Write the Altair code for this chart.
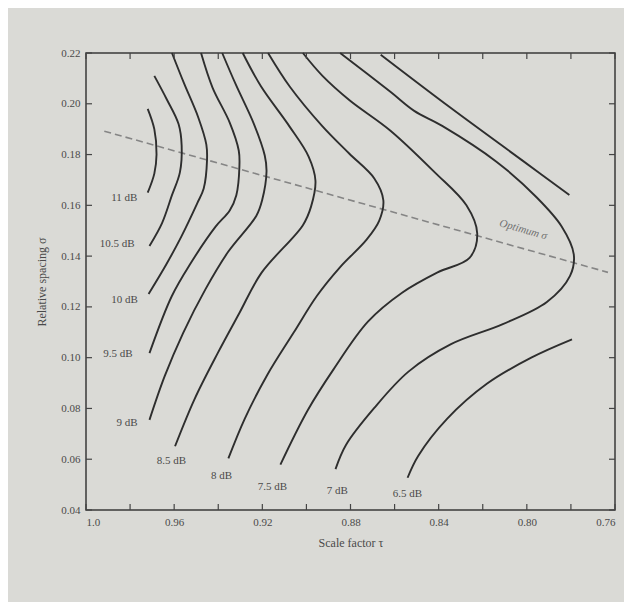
import altair as alt
import pandas as pd

# ---------------- values ----------------
# Scale factor tau (x, reversed) and relative spacing sigma (y)
tau_ticks = [1.0, 0.98, 0.96, 0.94, 0.92, 0.90, 0.88, 0.86, 0.84, 0.82, 0.80, 0.78, 0.76]
tau_tick_labels = [1.0, 0.96, 0.92, 0.88, 0.84, 0.80, 0.76]
sigma_ticks = [0.04, 0.06, 0.08, 0.10, 0.12, 0.14, 0.16, 0.18, 0.20, 0.22]

# constant-directivity contours (tau, sigma)
tau_11 = [0.972, 0.969, 0.968, 0.969, 0.972]
sig_11 = [0.198, 0.190, 0.180, 0.1725, 0.165]

tau_105 = [0.969, 0.9635, 0.958, 0.9566, 0.9574, 0.961, 0.9655, 0.9712]
sig_105 = [0.211, 0.202, 0.192, 0.1835, 0.173, 0.164, 0.153, 0.144]

tau_10 = [0.961, 0.9556, 0.9491, 0.9454, 0.9451, 0.9466, 0.9496, 0.9567, 0.9636, 0.9716]
sig_10 = [0.220, 0.2082, 0.1947, 0.1839, 0.1777, 0.1666, 0.1607, 0.1478, 0.1367, 0.1251]

tau_95 = [0.9478, 0.9426, 0.9348, 0.9307, 0.9304, 0.9318, 0.9348, 0.9413, 0.9525, 0.9611, 0.9712]
sig_95 = [0.220, 0.2064, 0.1926, 0.1816, 0.1753, 0.164, 0.158, 0.1515, 0.1372, 0.1242, 0.1018]

tau_9 = [0.9382, 0.932, 0.9238, 0.9189, 0.9181, 0.9201, 0.9227, 0.9355, 0.9459, 0.9559, 0.9643, 0.9712]
sig_9 = [0.220, 0.2075, 0.192, 0.1796, 0.1733, 0.162, 0.1559, 0.1417, 0.1268, 0.1098, 0.0927, 0.0755]

tau_85 = [0.9289, 0.9207, 0.9077, 0.899, 0.8959, 0.8979, 0.9016, 0.9204, 0.9304, 0.9403, 0.9508, 0.9596]
sig_85 = [0.220, 0.207, 0.1911, 0.1792, 0.1697, 0.1595, 0.1522, 0.1334, 0.1176, 0.1017, 0.0836, 0.0651]

tau_8 = [0.9174, 0.9075, 0.8929, 0.8806, 0.8692, 0.8651, 0.867, 0.8727, 0.8848, 0.8952, 0.9057, 0.9179, 0.928, 0.9354]
sig_8 = [0.220, 0.2067, 0.1913, 0.1804, 0.1706, 0.162, 0.1539, 0.1465, 0.1356, 0.1244, 0.110, 0.093, 0.0759, 0.0603]

tau_75 = [0.9016, 0.8926, 0.8803, 0.862, 0.842, 0.8274, 0.8225, 0.826, 0.8405, 0.8566, 0.8721, 0.8877, 0.8994, 0.9118]
sig_75 = [0.220, 0.2109, 0.2013, 0.1895, 0.1732, 0.160, 0.1489, 0.1393, 0.1336, 0.1256, 0.1142, 0.0954, 0.0793, 0.0579]

tau_7 = [0.8847, 0.8619, 0.8511, 0.8384, 0.8138, 0.7956, 0.7842, 0.7787, 0.7804, 0.7909, 0.8109, 0.8344, 0.8537, 0.8693, 0.882, 0.8868]
sig_7 = [0.220, 0.2047, 0.1972, 0.1913, 0.1772, 0.1632, 0.1517, 0.1407, 0.1322, 0.1219, 0.1132, 0.1053, 0.0945, 0.0801, 0.0657, 0.0561]

tau_65_low = [0.7795, 0.798, 0.818, 0.8362, 0.8493, 0.8541]
sig_65_low = [0.1072, 0.100, 0.0898, 0.0759, 0.0613, 0.0527]

tau_65_up = [0.8663, 0.8349, 0.8024, 0.7807]
sig_65_up = [0.2193, 0.1986, 0.1779, 0.1641]

# optimum sigma (dashed)
tau_opt = [0.9917, 0.7632]
sig_opt = [0.1892, 0.1336]

# contour labels
label_text = ["11 dB", "10.5 dB", "10 dB", "9.5 dB", "9 dB", "8.5 dB", "8 dB", "7.5 dB", "7 dB", "6.5 dB"]
label_tau = [0.9826, 0.9859, 0.9825, 0.9855, 0.9814, 0.9612, 0.9385, 0.9154, 0.886, 0.8542]
label_sig = [0.1628, 0.1448, 0.1226, 0.1013, 0.0742, 0.0594, 0.0533, 0.049, 0.0476, 0.0462]

opt_label = ["Optimum σ"]
opt_label_tau = [0.8016]
opt_label_sig = [0.1503]

# ---------------- tables ----------------
curve_list = [
    ("11", tau_11, sig_11), ("10.5", tau_105, sig_105), ("10", tau_10, sig_10),
    ("9.5", tau_95, sig_95), ("9", tau_9, sig_9), ("8.5", tau_85, sig_85),
    ("8", tau_8, sig_8), ("7.5", tau_75, sig_75), ("7", tau_7, sig_7),
    ("6.5a", tau_65_low, sig_65_low), ("6.5b", tau_65_up, sig_65_up),
]
rows = []
for name, ts, ss in curve_list:
    for i, (t, s) in enumerate(zip(ts, ss)):
        rows.append({"curve": name, "tau": t, "sigma": s, "i": i})
curves_df = pd.DataFrame(rows)
opt_df = pd.DataFrame({"tau": tau_opt, "sigma": sig_opt, "i": [0, 1]})
labels_df = pd.DataFrame({"label": label_text, "tau": label_tau, "sigma": label_sig})
opt_label_df = pd.DataFrame({"label": opt_label, "tau": opt_label_tau, "sigma": opt_label_sig})
xt_df = pd.DataFrame({"tau": tau_ticks})
yt_df = pd.DataFrame({"sigma": sigma_ticks})

W, H = 529, 457
FONT = "Liberation Serif"
INK = "#2e2e2e"
TXT = "#4a4a4a"

X = alt.X(
    "tau:Q",
    scale=alt.Scale(domain=[0.76, 1.0], reverse=True, nice=False, zero=False),
    axis=alt.Axis(
        values=tau_tick_labels,
        labelExpr="datum.value == 1 ? '1.0' : format(datum.value, '.2f')",
        title="Scale factor τ",
        ticks=False, domain=False, grid=False,
        labelPadding=6, titlePadding=10,
        labelFont=FONT, titleFont=FONT, labelFontSize=11, titleFontSize=12,
        titleFontWeight="normal", labelColor=TXT, titleColor=TXT,
    ),
)
Y = alt.Y(
    "sigma:Q",
    scale=alt.Scale(domain=[0.04, 0.22], nice=False, zero=False),
    axis=alt.Axis(
        values=sigma_ticks, format=".2f",
        title="Relative spacing σ",
        ticks=False, domain=False, grid=False,
        labelPadding=6, titlePadding=12,
        labelFont=FONT, titleFont=FONT, labelFontSize=11, titleFontSize=12,
        titleFontWeight="normal", labelColor=TXT, titleColor=TXT,
    ),
)

lines = alt.Chart(curves_df).mark_line(
    color=INK, strokeWidth=1.9, interpolate="catmull-rom"
).encode(x=X, y=Y, detail="curve:N", order="i:Q")
opt_line = alt.Chart(opt_df).mark_line(color="#858585", strokeWidth=1.6, strokeDash=[7, 4]).encode(
    x=X, y=Y, order="i:Q"
)
labels = alt.Chart(labels_df).mark_text(font=FONT, fontSize=11, color=TXT).encode(
    x=X, y=Y, text="label:N"
)
opt_text = alt.Chart(opt_label_df).mark_text(
    font=FONT, fontSize=11, fontStyle="italic", color="#707070", angle=16
).encode(x=X, y=Y, text="label:N")

tick_style = dict(color="#444", strokeWidth=1.2)
bottom_ticks = alt.Chart(xt_df).mark_rule(**tick_style).encode(x=X, y=alt.value(H), y2=alt.value(H - 6))
top_ticks = alt.Chart(xt_df).mark_rule(**tick_style).encode(x=X, y=alt.value(0), y2=alt.value(6))
left_ticks = alt.Chart(yt_df).mark_rule(**tick_style).encode(y=Y, x=alt.value(0), x2=alt.value(6))
right_ticks = alt.Chart(yt_df).mark_rule(**tick_style).encode(y=Y, x=alt.value(W), x2=alt.value(W - 6))

chart = alt.layer(
    opt_line, lines, labels, opt_text, bottom_ticks, top_ticks, left_ticks, right_ticks
).properties(
    width=W, height=H,
    padding={"left": 78, "top": 45, "right": 9, "bottom": 92},
    autosize=alt.AutoSizeParams(type="none"),
    background="#dadad6",
).configure_view(stroke="#3a3a3a", strokeWidth=1.5)

chart.save("out.html", embed_options={"renderer": "svg", "actions": False})
